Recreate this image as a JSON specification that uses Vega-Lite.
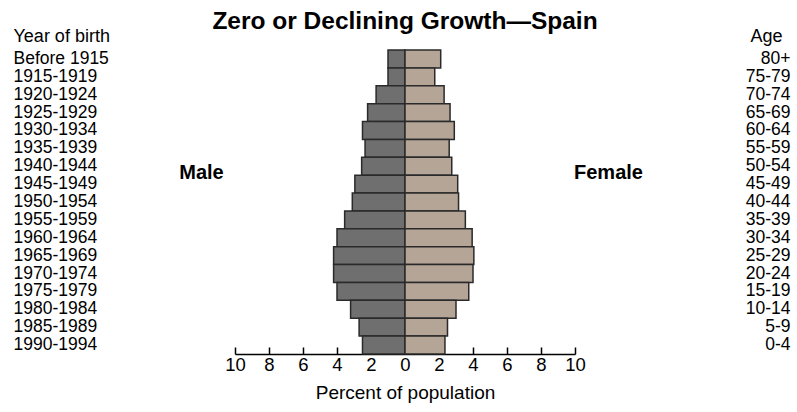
{
  "$schema": "https://vega.github.io/schema/vega-lite/v6.json",
  "width": 340,
  "height": 304,
  "autosize": {"type": "none"},
  "padding": {"left": 235, "top": 50, "right": 222, "bottom": 58},
  "background": "white",
  "title": {"text": "Zero or Declining Growth—Spain", "fontSize": 24.5, "fontWeight": "bold", "anchor": "middle", "color": "#000", "font": "Liberation Sans", "offset": 6, "dy": 13},
  "config": {"view": {"stroke": null}, "font": "Liberation Sans",
    "axisX": {"labelOverlap": false, "labelFlush": false, "grid": false}},
  "data": {"values": [
    {"age": "80+", "birth": "Before 1915", "sex": "Male", "percent": -1.0},
    {"age": "75-79", "birth": "1915-1919", "sex": "Male", "percent": -1.0},
    {"age": "70-74", "birth": "1920-1924", "sex": "Male", "percent": -1.7},
    {"age": "65-69", "birth": "1925-1929", "sex": "Male", "percent": -2.2},
    {"age": "60-64", "birth": "1930-1934", "sex": "Male", "percent": -2.5},
    {"age": "55-59", "birth": "1935-1939", "sex": "Male", "percent": -2.35},
    {"age": "50-54", "birth": "1940-1944", "sex": "Male", "percent": -2.55},
    {"age": "45-49", "birth": "1945-1949", "sex": "Male", "percent": -2.95},
    {"age": "40-44", "birth": "1950-1954", "sex": "Male", "percent": -3.1},
    {"age": "35-39", "birth": "1955-1959", "sex": "Male", "percent": -3.55},
    {"age": "30-34", "birth": "1960-1964", "sex": "Male", "percent": -4.0},
    {"age": "25-29", "birth": "1965-1969", "sex": "Male", "percent": -4.2},
    {"age": "20-24", "birth": "1970-1974", "sex": "Male", "percent": -4.2},
    {"age": "15-19", "birth": "1975-1979", "sex": "Male", "percent": -4.0},
    {"age": "10-14", "birth": "1980-1984", "sex": "Male", "percent": -3.2},
    {"age": "5-9", "birth": "1985-1989", "sex": "Male", "percent": -2.7},
    {"age": "0-4", "birth": "1990-1994", "sex": "Male", "percent": -2.5},
    {"age": "80+", "birth": "Before 1915", "sex": "Female", "percent": 2.1},
    {"age": "75-79", "birth": "1915-1919", "sex": "Female", "percent": 1.75},
    {"age": "70-74", "birth": "1920-1924", "sex": "Female", "percent": 2.3},
    {"age": "65-69", "birth": "1925-1929", "sex": "Female", "percent": 2.65},
    {"age": "60-64", "birth": "1930-1934", "sex": "Female", "percent": 2.9},
    {"age": "55-59", "birth": "1935-1939", "sex": "Female", "percent": 2.6},
    {"age": "50-54", "birth": "1940-1944", "sex": "Female", "percent": 2.75},
    {"age": "45-49", "birth": "1945-1949", "sex": "Female", "percent": 3.1},
    {"age": "40-44", "birth": "1950-1954", "sex": "Female", "percent": 3.15},
    {"age": "35-39", "birth": "1955-1959", "sex": "Female", "percent": 3.55},
    {"age": "30-34", "birth": "1960-1964", "sex": "Female", "percent": 3.95},
    {"age": "25-29", "birth": "1965-1969", "sex": "Female", "percent": 4.05},
    {"age": "20-24", "birth": "1970-1974", "sex": "Female", "percent": 4.0},
    {"age": "15-19", "birth": "1975-1979", "sex": "Female", "percent": 3.75},
    {"age": "10-14", "birth": "1980-1984", "sex": "Female", "percent": 3.0},
    {"age": "5-9", "birth": "1985-1989", "sex": "Female", "percent": 2.5},
    {"age": "0-4", "birth": "1990-1994", "sex": "Female", "percent": 2.35}
  ]},
  "layer": [
    {
      "transform": [{"filter": "datum.sex === 'Male'"}],
      "mark": {"type": "bar", "fill": "#6f6f6f", "stroke": "#2a2a2a", "strokeWidth": 1.5},
      "encoding": {
        "x": {"field": "percent", "type": "quantitative",
          "scale": {"domain": [-10, 10], "nice": false, "zero": true},
          "axis": {"values": [-10, -8, -6, -4, -2, 0, 2, 4, 6, 8, 10], "labelExpr": "abs(datum.value)", "grid": false, "labelOverlap": false,
            "title": "Percent of population", "titleFontSize": 19, "titleFontWeight": "normal", "titleColor": "#000", "titlePadding": 10,
            "labelFontSize": 18.5, "labelColor": "#000", "labelPadding": 8, "tickSize": -7, "tickColor": "#000", "tickWidth": 1.5,
            "domainColor": "#000", "domainWidth": 1.5, "labelFlush": false}},
        "y": {"field": "birth", "type": "nominal",
          "sort": ["Before 1915", "1915-1919", "1920-1924", "1925-1929", "1930-1934", "1935-1939", "1940-1944", "1945-1949", "1950-1954", "1955-1959", "1960-1964", "1965-1969", "1970-1974", "1975-1979", "1980-1984", "1985-1989", "1990-1994"],
          "scale": {"paddingInner": 0, "paddingOuter": 0},
          "axis": {"orient": "left", "title": "Year of birth", "titleAngle": 0, "titleAlign": "left", "titleBaseline": "alphabetic", "titleX": -222, "titleY": -9,
            "titleFontSize": 18, "titleFontWeight": "normal", "titleColor": "#000",
            "labelAlign": "left", "labelPadding": 222, "labelFontSize": 17.5, "labelColor": "#000", "ticks": false, "domain": false, "labelBaseline": "middle"}}
      }
    },
    {
      "layer": [
        {
          "transform": [{"filter": "datum.sex === 'Female'"}],
          "mark": {"type": "bar", "fill": "#b4a597", "stroke": "#2a2a2a", "strokeWidth": 1.5},
          "encoding": {
            "x": {"field": "percent", "type": "quantitative",
              "axis": {"values": [-10, -8, -6, -4, -2, 0, 2, 4, 6, 8, 10], "labelExpr": "abs(datum.value)", "labelOverlap": false, "title": "Percent of population"}},
            "y": {"field": "age", "type": "nominal",
              "sort": ["80+", "75-79", "70-74", "65-69", "60-64", "55-59", "50-54", "45-49", "40-44", "35-39", "30-34", "25-29", "20-24", "15-19", "10-14", "5-9", "0-4"],
              "scale": {"paddingInner": 0, "paddingOuter": 0},
              "axis": {"orient": "right", "title": "Age", "titleAngle": 0, "titleAlign": "right", "titleBaseline": "alphabetic", "titleX": 207, "titleY": -9,
                "titleFontSize": 18, "titleFontWeight": "normal", "titleColor": "#000",
                "labelAlign": "right", "labelPadding": 215, "labelFontSize": 17.5, "labelColor": "#000", "ticks": false, "domain": false, "labelBaseline": "middle"}}
          }
        },
        {
          "data": {"values": [
            {"label": "Male", "pos": -11.97, "age": "50-54"},
            {"label": "Female", "pos": 11.97, "age": "50-54"}
          ]},
          "mark": {"type": "text", "fontSize": 20, "fontWeight": "bold", "color": "#000", "baseline": "middle", "align": "center"},
          "encoding": {
            "x": {"field": "pos", "type": "quantitative",
              "axis": {"values": [-10, -8, -6, -4, -2, 0, 2, 4, 6, 8, 10], "labelExpr": "abs(datum.value)", "labelOverlap": false, "title": "Percent of population"}},
            "y": {"field": "age", "type": "nominal", "bandPosition": 0.9,
              "sort": ["80+", "75-79", "70-74", "65-69", "60-64", "55-59", "50-54", "45-49", "40-44", "35-39", "30-34", "25-29", "20-24", "15-19", "10-14", "5-9", "0-4"],
              "axis": {"title": "Age"}},
            "text": {"field": "label"}
          }
        }
      ]
    }
  ],
  "resolve": {"scale": {"y": "independent"}, "axis": {"y": "independent"}}
}
